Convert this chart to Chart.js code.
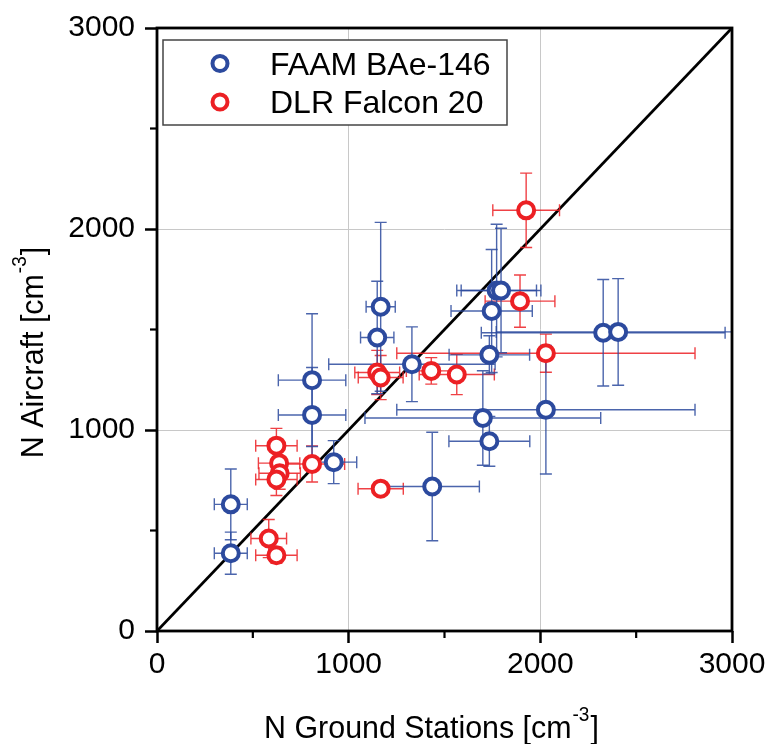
<!DOCTYPE html>
<html>
<head>
<meta charset="utf-8">
<script src="https://cdn.jsdelivr.net/npm/chart.js@4.4.0/dist/chart.umd.min.js"></script>
<style>
html,body{margin:0;padding:0;background:#fff;}
#wrap{width:770px;height:744px;}
</style>
</head>
<body>
<div id="wrap"><canvas id="c" width="770" height="744"></canvas></div>
<script>
// ---- data ----
const faamX    = [385, 385, 922, 1436, 809, 809, 1700, 1734, 2029, 2328, 2406, 1734, 1746, 1772, 1795, 1167, 1149, 1330];
const faamY    = [387, 630, 840, 719, 1075, 1248, 1060, 944, 1101, 1484, 1488, 1374, 1592, 1694, 1694, 1613, 1460, 1327];
const faamXErr = [86, 86, 120, 246, 176, 176, 615, 211, 778, 636, 636, 210, 212, 208, 208, 76, 87, 434];
const faamYErr = [105, 176, 107, 270, 236, 330, 235, 124, 320, 265, 265, 95, 306, 330, 310, 420, 280, 186];

const dlrX    = [623, 637, 640, 623, 809, 583, 623, 1167, 2029, 1149, 1167, 1431, 1564, 1894, 1926];
const dlrY    = [922, 835, 785, 754, 831, 460, 377, 708, 1382, 1286, 1261, 1294, 1276, 1641, 2093];
const dlrXErr = [108, 108, 108, 108, 170, 93, 108, 118, 778, 117, 117, 130, 196, 182, 174];
const dlrYErr = [86, 80, 80, 80, 90, 95, 40, 25, 95, 110, 110, 66, 100, 130, 185];

const lineX = [0, 3000];
const lineY = [0, 3000];

const axisMin = 0, axisMax = 3000, minorStep = 500, majorStep = 1000;
const seriesNames = ['FAAM BAe-146', 'DLR Falcon 20'];
const xTitle = ['N Ground Stations [cm', '-3', ']'];
const yTitle = ['N Aircraft [cm', '-3', ']'];

// ---- styles ----
const FAMILY = '"Liberation Sans", Arial, Helvetica, sans-serif';
const BLUE = 'rgb(44,74,158)';
const RED = 'rgb(236,32,36)';
const BLUE_BAR = 'rgba(44,74,158,0.85)';
const RED_BAR = 'rgba(236,32,36,0.85)';

const toPts = (xs, ys) => xs.map((x, i) => ({x: x, y: ys[i]}));

const errorBars = {
  id: 'errorBars',
  beforeDatasetDraw(chart, args) {
    const ds0 = chart.data.datasets[args.index];
    if (!ds0.firstScatter) return;
    const ctx = chart.ctx, xs = chart.scales.x, ys = chart.scales.y, a = chart.chartArea;
    ctx.save();
    ctx.beginPath();
    ctx.rect(a.left, a.top, a.right - a.left, a.bottom - a.top);
    ctx.clip();
    ctx.lineWidth = 1.4;
    const cap = 6;
    chart.data.datasets.forEach(ds => {
      if (!ds.errX) return;
      ctx.strokeStyle = ds.errColor;
      ds.data.forEach((p, i) => {
        const px = xs.getPixelForValue(p.x), py = ys.getPixelForValue(p.y);
        const x1 = xs.getPixelForValue(p.x - ds.errX[i]), x2 = xs.getPixelForValue(p.x + ds.errX[i]);
        const y1 = ys.getPixelForValue(p.y - ds.errY[i]), y2 = ys.getPixelForValue(p.y + ds.errY[i]);
        ctx.beginPath();
        ctx.moveTo(x1, py); ctx.lineTo(x2, py);
        ctx.moveTo(x1, py - cap); ctx.lineTo(x1, py + cap);
        ctx.moveTo(x2, py - cap); ctx.lineTo(x2, py + cap);
        ctx.moveTo(px, y1); ctx.lineTo(px, y2);
        ctx.moveTo(px - cap, y1); ctx.lineTo(px + cap, y1);
        ctx.moveTo(px - cap, y2); ctx.lineTo(px + cap, y2);
        ctx.stroke();
      });
    });
    ctx.restore();
  }
};

function drawSupText(ctx, parts, size, supSize, squeeze) {
  ctx.font = size + 'px ' + FAMILY;
  const w0 = ctx.measureText(parts[0]).width;
  const w2 = ctx.measureText(parts[2]).width;
  ctx.font = supSize + 'px ' + FAMILY;
  const w1 = ctx.measureText(parts[1]).width;
  const total = (w0 + w1 + w2) * squeeze;
  ctx.save();
  ctx.translate(-total / 2, 0);
  ctx.scale(squeeze, 1);
  ctx.fillStyle = '#000';
  ctx.textBaseline = 'alphabetic';
  ctx.textAlign = 'left';
  ctx.font = size + 'px ' + FAMILY;
  ctx.fillText(parts[0], 0, 0);
  ctx.font = supSize + 'px ' + FAMILY;
  ctx.fillText(parts[1], w0 + 1, -17);
  ctx.font = size + 'px ' + FAMILY;
  ctx.fillText(parts[2], w0 + w1 + 2, 0);
  ctx.restore();
}

const decor = {
  id: 'decor',
  afterDraw(chart) {
    const ctx = chart.ctx, a = chart.chartArea, xs = chart.scales.x, ys = chart.scales.y;
    ctx.save();
    // minor ticks
    ctx.strokeStyle = '#000';
    ctx.lineWidth = 2.2;
    xs.ticks.forEach(t => {
      if (t.value % majorStep !== 0) {
        const px = xs.getPixelForValue(t.value);
        ctx.beginPath(); ctx.moveTo(px, a.bottom); ctx.lineTo(px, a.bottom + 7); ctx.stroke();
      }
    });
    ys.ticks.forEach(t => {
      if (t.value % majorStep !== 0) {
        const py = ys.getPixelForValue(t.value);
        ctx.beginPath(); ctx.moveTo(a.left, py); ctx.lineTo(a.left - 7, py); ctx.stroke();
      }
    });
    // frame
    ctx.lineWidth = 2.8;
    ctx.strokeRect(a.left, a.top, a.right - a.left, a.bottom - a.top);

    // legend
    const lx = a.left + 6, ly = a.top + 12, lw = 344, lh = 85;
    ctx.fillStyle = '#fff';
    ctx.fillRect(lx, ly, lw, lh);
    ctx.strokeStyle = '#444';
    ctx.lineWidth = 1.5;
    ctx.strokeRect(lx, ly, lw, lh);
    const cols = [BLUE, RED];
    const rows = [ly + 23.5, ly + 62];
    seriesNames.forEach((name, i) => {
      ctx.beginPath();
      ctx.arc(lx + 57, rows[i], 7.5, 0, Math.PI * 2);
      ctx.fillStyle = '#fff';
      ctx.fill();
      ctx.strokeStyle = cols[i];
      ctx.lineWidth = 4;
      ctx.stroke();
      ctx.fillStyle = '#000';
      ctx.font = '32px ' + FAMILY;
      ctx.textAlign = 'left';
      ctx.textBaseline = 'alphabetic';
      ctx.fillText(name, lx + 107, rows[i] + 11);
    });

    // axis titles
    ctx.save();
    ctx.translate((a.left + a.right) / 2 - 14, 738);
    drawSupText(ctx, xTitle, 32, 20, 0.95);
    ctx.restore();
    ctx.save();
    ctx.translate(43, (a.top + a.bottom) / 2 + 24);
    ctx.rotate(-Math.PI / 2);
    drawSupText(ctx, yTitle, 32, 20, 0.95);
    ctx.restore();
    ctx.restore();
  }
};

const isMajor = v => v % majorStep === 0;
const gridColor = ctx => {
  const v = ctx.tick ? ctx.tick.value : null;
  return (v !== null && isMajor(v) && v > axisMin && v < axisMax) ? '#c8c8c8' : 'rgba(0,0,0,0)';
};
const tickColor = ctx => (ctx.tick && isMajor(ctx.tick.value)) ? '#000' : 'rgba(0,0,0,0)';

function axisOpts(isX) {
  return {
    type: 'linear',
    min: axisMin,
    max: axisMax,
    border: {display: false},
    grid: {
      color: gridColor,
      lineWidth: 1,
      drawTicks: true,
      tickLength: 12,
      tickColor: tickColor,
      tickWidth: 2.5
    },
    ticks: {
      stepSize: minorStep,
      autoSkip: false,
      maxRotation: 0,
      color: '#000',
      padding: isX ? 4 : 10,
      font: {size: 30, family: FAMILY},
      callback: v => isMajor(v) ? String(v) : ''
    },
    title: {display: false},
    afterFit: s => { if (isX) s.height = 113; else s.width = 157; }
  };
}

new Chart(document.getElementById('c'), {
  type: 'scatter',
  data: {
    datasets: [
      {
        label: seriesNames[1],
        data: toPts(dlrX, dlrY),
        errX: dlrXErr, errY: dlrYErr, errColor: RED_BAR,
        order: 1,
        pointStyle: 'circle',
        pointRadius: 8,
        pointHoverRadius: 8,
        pointBorderWidth: 4,
        borderColor: RED,
        backgroundColor: '#fff'
      },
      {
        label: seriesNames[0],
        data: toPts(faamX, faamY),
        errX: faamXErr, errY: faamYErr, errColor: BLUE_BAR,
        firstScatter: true,
        order: 2,
        pointStyle: 'circle',
        pointRadius: 8,
        pointHoverRadius: 8,
        pointBorderWidth: 4,
        borderColor: BLUE,
        backgroundColor: '#fff'
      },
      {
        label: '1:1',
        data: toPts(lineX, lineY),
        order: 3,
        showLine: true,
        pointRadius: 0,
        borderColor: '#000',
        borderWidth: 2.8,
        fill: false
      }
    ]
  },
  options: {
    responsive: false,
    animation: false,
    devicePixelRatio: 1,
    layout: {padding: {left: 0, top: 26, right: 38, bottom: 0}},
    plugins: {
      legend: {display: false},
      tooltip: {enabled: false},
      title: {display: false}
    },
    scales: {
      x: axisOpts(true),
      y: axisOpts(false)
    }
  },
  plugins: [errorBars, decor]
});
</script>
</body>
</html>
